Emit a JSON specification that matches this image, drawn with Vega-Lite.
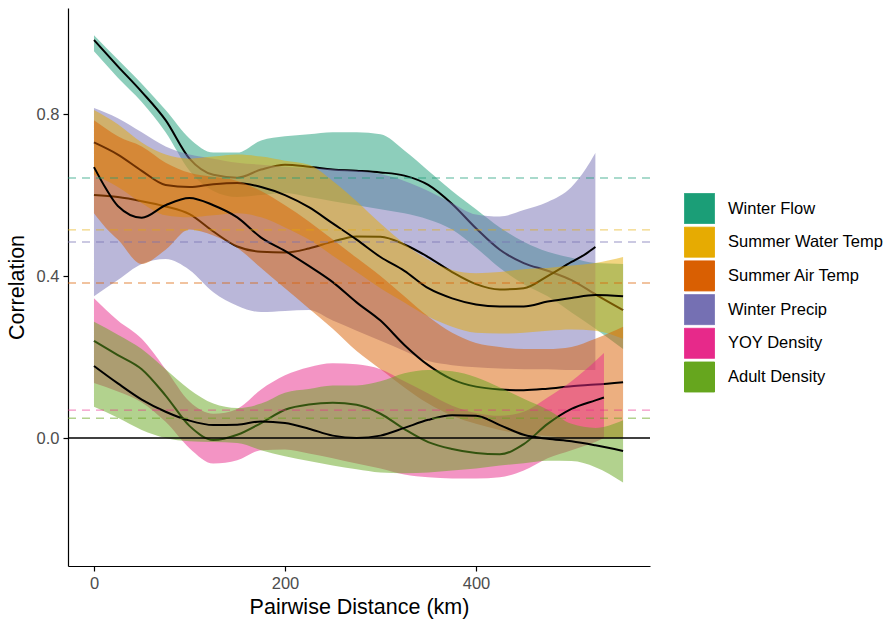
{
  "$schema": "https://vega.github.io/schema/vega-lite/v6.json",
  "width": 582,
  "height": 558,
  "autosize": {"type": "none"},
  "padding": {"left": 68, "top": 8, "right": 239, "bottom": 53},
  "background": "white",
  "config": {
    "view": {"stroke": null},
    "font": "Liberation Sans",
    "axis": {"domainColor": "black", "domainWidth": 1.2, "tickColor": "black", "tickWidth": 1.2, "tickSize": 5, "labelColor": "#4D4D4D", "labelFontSize": 16.5, "titleFontSize": 21.5, "titleFontWeight": "normal", "titleColor": "black", "grid": false, "labelPadding": 4},
    "legend": {"orient": "none", "legendX": 616, "legendY": 185, "symbolType": "square", "symbolSize": 900, "symbolOpacity": 1, "symbolStrokeColor": "white", "symbolStrokeWidth": 1, "labelFontSize": 16.5, "labelColor": "black", "rowPadding": -1.3, "labelOffset": 13}
  },
  "datasets": {
    "rib": [
      {"s":"Winter Flow","x":0,"m":0.983,"lo":0.955,"hi":0.995},
      {"s":"Winter Flow","x":25,"m":0.918,"lo":0.89,"hi":0.935},
      {"s":"Winter Flow","x":50,"m":0.855,"lo":0.83,"hi":0.875},
      {"s":"Winter Flow","x":75,"m":0.785,"lo":0.755,"hi":0.81},
      {"s":"Winter Flow","x":100,"m":0.69,"lo":0.66,"hi":0.74},
      {"s":"Winter Flow","x":125,"m":0.65,"lo":0.61,"hi":0.705},
      {"s":"Winter Flow","x":150,"m":0.643,"lo":0.595,"hi":0.705},
      {"s":"Winter Flow","x":175,"m":0.663,"lo":0.6,"hi":0.735},
      {"s":"Winter Flow","x":200,"m":0.675,"lo":0.605,"hi":0.745},
      {"s":"Winter Flow","x":225,"m":0.67,"lo":0.595,"hi":0.75},
      {"s":"Winter Flow","x":250,"m":0.663,"lo":0.585,"hi":0.755},
      {"s":"Winter Flow","x":275,"m":0.66,"lo":0.575,"hi":0.755},
      {"s":"Winter Flow","x":300,"m":0.656,"lo":0.565,"hi":0.75},
      {"s":"Winter Flow","x":325,"m":0.648,"lo":0.555,"hi":0.71},
      {"s":"Winter Flow","x":350,"m":0.625,"lo":0.54,"hi":0.66},
      {"s":"Winter Flow","x":375,"m":0.578,"lo":0.515,"hi":0.61},
      {"s":"Winter Flow","x":400,"m":0.518,"lo":0.47,"hi":0.565},
      {"s":"Winter Flow","x":425,"m":0.465,"lo":0.42,"hi":0.52},
      {"s":"Winter Flow","x":450,"m":0.432,"lo":0.38,"hi":0.485},
      {"s":"Winter Flow","x":475,"m":0.413,"lo":0.35,"hi":0.46},
      {"s":"Winter Flow","x":500,"m":0.39,"lo":0.31,"hi":0.445},
      {"s":"Winter Flow","x":525,"m":0.355,"lo":0.27,"hi":0.432},
      {"s":"Winter Flow","x":554,"m":0.316,"lo":0.22,"hi":0.43},

      {"s":"Summer Water Temp","x":0,"m":0.73,"lo":0.65,"hi":0.81},
      {"s":"Summer Water Temp","x":25,"m":0.7,"lo":0.62,"hi":0.775},
      {"s":"Summer Water Temp","x":50,"m":0.66,"lo":0.58,"hi":0.73},
      {"s":"Summer Water Temp","x":75,"m":0.625,"lo":0.55,"hi":0.7},
      {"s":"Summer Water Temp","x":100,"m":0.62,"lo":0.545,"hi":0.69},
      {"s":"Summer Water Temp","x":125,"m":0.627,"lo":0.55,"hi":0.695},
      {"s":"Summer Water Temp","x":150,"m":0.63,"lo":0.555,"hi":0.7},
      {"s":"Summer Water Temp","x":175,"m":0.62,"lo":0.545,"hi":0.695},
      {"s":"Summer Water Temp","x":200,"m":0.6,"lo":0.52,"hi":0.685},
      {"s":"Summer Water Temp","x":225,"m":0.57,"lo":0.49,"hi":0.675},
      {"s":"Summer Water Temp","x":250,"m":0.53,"lo":0.45,"hi":0.635},
      {"s":"Summer Water Temp","x":275,"m":0.49,"lo":0.41,"hi":0.585},
      {"s":"Summer Water Temp","x":300,"m":0.447,"lo":0.37,"hi":0.53},
      {"s":"Summer Water Temp","x":325,"m":0.413,"lo":0.335,"hi":0.48},
      {"s":"Summer Water Temp","x":350,"m":0.37,"lo":0.3,"hi":0.44},
      {"s":"Summer Water Temp","x":375,"m":0.345,"lo":0.275,"hi":0.415},
      {"s":"Summer Water Temp","x":400,"m":0.33,"lo":0.26,"hi":0.407},
      {"s":"Summer Water Temp","x":425,"m":0.325,"lo":0.258,"hi":0.41},
      {"s":"Summer Water Temp","x":450,"m":0.325,"lo":0.26,"hi":0.417},
      {"s":"Summer Water Temp","x":475,"m":0.337,"lo":0.265,"hi":0.42},
      {"s":"Summer Water Temp","x":500,"m":0.346,"lo":0.268,"hi":0.426},
      {"s":"Summer Water Temp","x":525,"m":0.353,"lo":0.265,"hi":0.432},
      {"s":"Summer Water Temp","x":554,"m":0.35,"lo":0.245,"hi":0.447},

      {"s":"Summer Air Temp","x":0,"m":0.669,"lo":0.555,"hi":0.785},
      {"s":"Summer Air Temp","x":12,"m":0.618,"lo":0.52,"hi":0.765},
      {"s":"Summer Air Temp","x":25,"m":0.573,"lo":0.49,"hi":0.745},
      {"s":"Summer Air Temp","x":50,"m":0.544,"lo":0.43,"hi":0.72},
      {"s":"Summer Air Temp","x":75,"m":0.575,"lo":0.465,"hi":0.68},
      {"s":"Summer Air Temp","x":100,"m":0.593,"lo":0.515,"hi":0.655},
      {"s":"Summer Air Temp","x":125,"m":0.575,"lo":0.5,"hi":0.645},
      {"s":"Summer Air Temp","x":150,"m":0.545,"lo":0.47,"hi":0.635},
      {"s":"Summer Air Temp","x":175,"m":0.495,"lo":0.42,"hi":0.61},
      {"s":"Summer Air Temp","x":200,"m":0.462,"lo":0.37,"hi":0.575},
      {"s":"Summer Air Temp","x":225,"m":0.425,"lo":0.32,"hi":0.535},
      {"s":"Summer Air Temp","x":250,"m":0.385,"lo":0.27,"hi":0.49},
      {"s":"Summer Air Temp","x":275,"m":0.335,"lo":0.215,"hi":0.445},
      {"s":"Summer Air Temp","x":300,"m":0.29,"lo":0.17,"hi":0.4},
      {"s":"Summer Air Temp","x":325,"m":0.23,"lo":0.125,"hi":0.35},
      {"s":"Summer Air Temp","x":350,"m":0.18,"lo":0.085,"hi":0.3},
      {"s":"Summer Air Temp","x":375,"m":0.145,"lo":0.055,"hi":0.26},
      {"s":"Summer Air Temp","x":400,"m":0.127,"lo":0.035,"hi":0.235},
      {"s":"Summer Air Temp","x":425,"m":0.12,"lo":0.02,"hi":0.225},
      {"s":"Summer Air Temp","x":450,"m":0.118,"lo":0.01,"hi":0.22},
      {"s":"Summer Air Temp","x":475,"m":0.122,"lo":0.005,"hi":0.22},
      {"s":"Summer Air Temp","x":500,"m":0.128,"lo":0.0,"hi":0.225},
      {"s":"Summer Air Temp","x":525,"m":0.132,"lo":0.0,"hi":0.245},
      {"s":"Summer Air Temp","x":554,"m":0.138,"lo":0.0,"hi":0.275},

      {"s":"Winter Precip","x":0,"m":0.6,"lo":0.35,"hi":0.815},
      {"s":"Winter Precip","x":25,"m":0.595,"lo":0.39,"hi":0.79},
      {"s":"Winter Precip","x":50,"m":0.585,"lo":0.43,"hi":0.755},
      {"s":"Winter Precip","x":75,"m":0.572,"lo":0.442,"hi":0.72},
      {"s":"Winter Precip","x":100,"m":0.553,"lo":0.415,"hi":0.7},
      {"s":"Winter Precip","x":125,"m":0.51,"lo":0.36,"hi":0.69},
      {"s":"Winter Precip","x":150,"m":0.473,"lo":0.327,"hi":0.68},
      {"s":"Winter Precip","x":175,"m":0.46,"lo":0.311,"hi":0.675},
      {"s":"Winter Precip","x":200,"m":0.458,"lo":0.314,"hi":0.67},
      {"s":"Winter Precip","x":225,"m":0.468,"lo":0.316,"hi":0.667},
      {"s":"Winter Precip","x":250,"m":0.485,"lo":0.29,"hi":0.664},
      {"s":"Winter Precip","x":275,"m":0.498,"lo":0.265,"hi":0.66},
      {"s":"Winter Precip","x":300,"m":0.497,"lo":0.24,"hi":0.652},
      {"s":"Winter Precip","x":325,"m":0.478,"lo":0.215,"hi":0.635},
      {"s":"Winter Precip","x":350,"m":0.447,"lo":0.19,"hi":0.61},
      {"s":"Winter Precip","x":375,"m":0.41,"lo":0.18,"hi":0.58},
      {"s":"Winter Precip","x":400,"m":0.38,"lo":0.175,"hi":0.552},
      {"s":"Winter Precip","x":425,"m":0.367,"lo":0.172,"hi":0.547},
      {"s":"Winter Precip","x":450,"m":0.37,"lo":0.17,"hi":0.563},
      {"s":"Winter Precip","x":475,"m":0.4,"lo":0.17,"hi":0.583},
      {"s":"Winter Precip","x":500,"m":0.435,"lo":0.168,"hi":0.62},
      {"s":"Winter Precip","x":515,"m":0.455,"lo":0.168,"hi":0.665},
      {"s":"Winter Precip","x":525,"m":0.472,"lo":0.168,"hi":0.704},

      {"s":"YOY Density","x":0,"m":0.24,"lo":0.136,"hi":0.345},
      {"s":"YOY Density","x":25,"m":0.205,"lo":0.115,"hi":0.29},
      {"s":"YOY Density","x":50,"m":0.17,"lo":0.088,"hi":0.245},
      {"s":"YOY Density","x":75,"m":0.105,"lo":0.04,"hi":0.17},
      {"s":"YOY Density","x":100,"m":0.03,"lo":-0.025,"hi":0.09},
      {"s":"YOY Density","x":125,"m":-0.005,"lo":-0.063,"hi":0.06},
      {"s":"YOY Density","x":150,"m":0.008,"lo":-0.055,"hi":0.072},
      {"s":"YOY Density","x":175,"m":0.037,"lo":-0.03,"hi":0.12},
      {"s":"YOY Density","x":200,"m":0.07,"lo":-0.028,"hi":0.155},
      {"s":"YOY Density","x":225,"m":0.083,"lo":-0.038,"hi":0.175},
      {"s":"YOY Density","x":250,"m":0.087,"lo":-0.05,"hi":0.185},
      {"s":"YOY Density","x":275,"m":0.082,"lo":-0.063,"hi":0.182},
      {"s":"YOY Density","x":300,"m":0.06,"lo":-0.075,"hi":0.17},
      {"s":"YOY Density","x":325,"m":0.022,"lo":-0.09,"hi":0.14},
      {"s":"YOY Density","x":350,"m":-0.01,"lo":-0.097,"hi":0.11},
      {"s":"YOY Density","x":375,"m":-0.027,"lo":-0.1,"hi":0.08},
      {"s":"YOY Density","x":400,"m":-0.037,"lo":-0.1,"hi":0.062},
      {"s":"YOY Density","x":425,"m":-0.04,"lo":-0.097,"hi":0.055},
      {"s":"YOY Density","x":450,"m":-0.015,"lo":-0.08,"hi":0.065},
      {"s":"YOY Density","x":475,"m":0.035,"lo":-0.05,"hi":0.1},
      {"s":"YOY Density","x":500,"m":0.072,"lo":-0.03,"hi":0.14},
      {"s":"YOY Density","x":525,"m":0.093,"lo":-0.01,"hi":0.19},
      {"s":"YOY Density","x":534,"m":0.1,"lo":0.0,"hi":0.21},

      {"s":"Adult Density","x":0,"m":0.178,"lo":0.077,"hi":0.287},
      {"s":"Adult Density","x":25,"m":0.135,"lo":0.05,"hi":0.255},
      {"s":"Adult Density","x":50,"m":0.095,"lo":0.02,"hi":0.22},
      {"s":"Adult Density","x":75,"m":0.065,"lo":0.0,"hi":0.17},
      {"s":"Adult Density","x":100,"m":0.043,"lo":-0.008,"hi":0.12},
      {"s":"Adult Density","x":125,"m":0.032,"lo":-0.01,"hi":0.085},
      {"s":"Adult Density","x":150,"m":0.033,"lo":-0.012,"hi":0.074},
      {"s":"Adult Density","x":175,"m":0.041,"lo":-0.03,"hi":0.085},
      {"s":"Adult Density","x":200,"m":0.037,"lo":-0.045,"hi":0.112},
      {"s":"Adult Density","x":225,"m":0.023,"lo":-0.057,"hi":0.121},
      {"s":"Adult Density","x":250,"m":0.006,"lo":-0.068,"hi":0.13},
      {"s":"Adult Density","x":275,"m":0.0,"lo":-0.077,"hi":0.13},
      {"s":"Adult Density","x":300,"m":0.006,"lo":-0.085,"hi":0.14},
      {"s":"Adult Density","x":325,"m":0.025,"lo":-0.087,"hi":0.16},
      {"s":"Adult Density","x":350,"m":0.045,"lo":-0.085,"hi":0.168},
      {"s":"Adult Density","x":375,"m":0.056,"lo":-0.08,"hi":0.165},
      {"s":"Adult Density","x":400,"m":0.055,"lo":-0.075,"hi":0.15},
      {"s":"Adult Density","x":425,"m":0.032,"lo":-0.068,"hi":0.125},
      {"s":"Adult Density","x":450,"m":0.008,"lo":-0.062,"hi":0.097},
      {"s":"Adult Density","x":475,"m":-0.002,"lo":-0.056,"hi":0.07},
      {"s":"Adult Density","x":500,"m":-0.008,"lo":-0.057,"hi":0.035},
      {"s":"Adult Density","x":525,"m":-0.018,"lo":-0.072,"hi":0.025},
      {"s":"Adult Density","x":554,"m":-0.032,"lo":-0.11,"hi":0.044}
    ],
    "means": [
      {"s":"Winter Flow","v":0.642},
      {"s":"Summer Water Temp","v":0.514},
      {"s":"Summer Air Temp","v":0.383},
      {"s":"Winter Precip","v":0.484},
      {"s":"YOY Density","v":0.069},
      {"s":"Adult Density","v":0.049}
    ]
  },
  "layer": [
    {"data":{"name":"rib"},"transform":[{"filter":"datum.s==='Winter Flow'"}],"mark":{"type":"area","opacity":0.5,"interpolate":"monotone"},
     "encoding":{
       "x":{"field":"x","type":"quantitative","title":"Pairwise Distance (km)","scale":{"domain":[-27.2,582.2],"nice":false,"zero":false},"axis":{"values":[0,200,400],"titlePadding":5}},
       "y":{"field":"lo","type":"quantitative","title":"Correlation","scale":{"domain":[-0.316,1.062],"nice":false,"zero":false},"axis":{"values":[0,0.4,0.8],"format":".1f","titlePadding":8}},
       "y2":{"field":"hi"},
       "color":{"field":"s","type":"nominal","title":null,"scale":{"domain":["Winter Flow","Summer Water Temp","Summer Air Temp","Winter Precip","YOY Density","Adult Density"],"range":["#1B9E77","#E6AB02","#D95F02","#7570B3","#E7298A","#66A61E"]},"legend":{"orient":"none","legendX":616,"legendY":185,"symbolType":"square","symbolSize":900,"symbolOpacity":1,"symbolStrokeColor":"white","symbolStrokeWidth":1,"symbolDash":[1,0],"labelFontSize":16.5,"rowPadding":-1.3,"labelOffset":13}}}},
    {"data":{"name":"rib"},"transform":[{"filter":"datum.s==='Winter Flow'"}],"mark":{"type":"line","color":"black","strokeWidth":2,"interpolate":"monotone"},
     "encoding":{"x":{"field":"x","type":"quantitative","title":"Pairwise Distance (km)"},"y":{"field":"m","type":"quantitative","title":"Correlation"}}},

    {"data":{"name":"rib"},"transform":[{"filter":"datum.s==='Winter Precip'"}],"mark":{"type":"area","opacity":0.5,"interpolate":"monotone"},
     "encoding":{"x":{"field":"x","type":"quantitative","title":"Pairwise Distance (km)"},"y":{"field":"lo","type":"quantitative","title":"Correlation"},"y2":{"field":"hi"},"color":{"field":"s","type":"nominal","title":null}}},
    {"data":{"name":"rib"},"transform":[{"filter":"datum.s==='Winter Precip'"}],"mark":{"type":"line","color":"black","strokeWidth":2,"interpolate":"monotone"},
     "encoding":{"x":{"field":"x","type":"quantitative","title":"Pairwise Distance (km)"},"y":{"field":"m","type":"quantitative","title":"Correlation"}}},

    {"data":{"name":"rib"},"transform":[{"filter":"datum.s==='Summer Water Temp'"}],"mark":{"type":"area","opacity":0.5,"interpolate":"monotone"},
     "encoding":{"x":{"field":"x","type":"quantitative","title":"Pairwise Distance (km)"},"y":{"field":"lo","type":"quantitative","title":"Correlation"},"y2":{"field":"hi"},"color":{"field":"s","type":"nominal","title":null}}},
    {"data":{"name":"rib"},"transform":[{"filter":"datum.s==='Summer Water Temp'"}],"mark":{"type":"line","color":"black","strokeWidth":2,"interpolate":"monotone"},
     "encoding":{"x":{"field":"x","type":"quantitative","title":"Pairwise Distance (km)"},"y":{"field":"m","type":"quantitative","title":"Correlation"}}},

    {"data":{"name":"rib"},"transform":[{"filter":"datum.s==='Summer Air Temp'"}],"mark":{"type":"area","opacity":0.5,"interpolate":"monotone"},
     "encoding":{"x":{"field":"x","type":"quantitative","title":"Pairwise Distance (km)"},"y":{"field":"lo","type":"quantitative","title":"Correlation"},"y2":{"field":"hi"},"color":{"field":"s","type":"nominal","title":null}}},
    {"data":{"name":"rib"},"transform":[{"filter":"datum.s==='Summer Air Temp'"}],"mark":{"type":"line","color":"black","strokeWidth":2,"interpolate":"monotone"},
     "encoding":{"x":{"field":"x","type":"quantitative","title":"Pairwise Distance (km)"},"y":{"field":"m","type":"quantitative","title":"Correlation"}}},

    {"data":{"name":"rib"},"transform":[{"filter":"datum.s==='YOY Density'"}],"mark":{"type":"area","opacity":0.5,"interpolate":"monotone"},
     "encoding":{"x":{"field":"x","type":"quantitative","title":"Pairwise Distance (km)"},"y":{"field":"lo","type":"quantitative","title":"Correlation"},"y2":{"field":"hi"},"color":{"field":"s","type":"nominal","title":null}}},
    {"data":{"name":"rib"},"transform":[{"filter":"datum.s==='YOY Density'"}],"mark":{"type":"line","color":"black","strokeWidth":2,"interpolate":"monotone"},
     "encoding":{"x":{"field":"x","type":"quantitative","title":"Pairwise Distance (km)"},"y":{"field":"m","type":"quantitative","title":"Correlation"}}},

    {"data":{"name":"rib"},"transform":[{"filter":"datum.s==='Adult Density'"}],"mark":{"type":"area","opacity":0.5,"interpolate":"monotone"},
     "encoding":{"x":{"field":"x","type":"quantitative","title":"Pairwise Distance (km)"},"y":{"field":"lo","type":"quantitative","title":"Correlation"},"y2":{"field":"hi"},"color":{"field":"s","type":"nominal","title":null}}},
    {"data":{"name":"rib"},"transform":[{"filter":"datum.s==='Adult Density'"}],"mark":{"type":"line","color":"black","strokeWidth":2,"interpolate":"monotone"},
     "encoding":{"x":{"field":"x","type":"quantitative","title":"Pairwise Distance (km)"},"y":{"field":"m","type":"quantitative","title":"Correlation"}}},

    {"data":{"name":"means"},"mark":{"type":"rule","strokeDash":[8,6],"strokeWidth":1.4,"opacity":0.5},
     "encoding":{"y":{"field":"v","type":"quantitative","title":"Correlation"},"color":{"field":"s","type":"nominal","title":null}}},
    {"data":{"values":[{"v":0}]},"mark":{"type":"rule","color":"black","strokeWidth":1.4},
     "encoding":{"y":{"field":"v","type":"quantitative","title":"Correlation"}}}
  ]
}
